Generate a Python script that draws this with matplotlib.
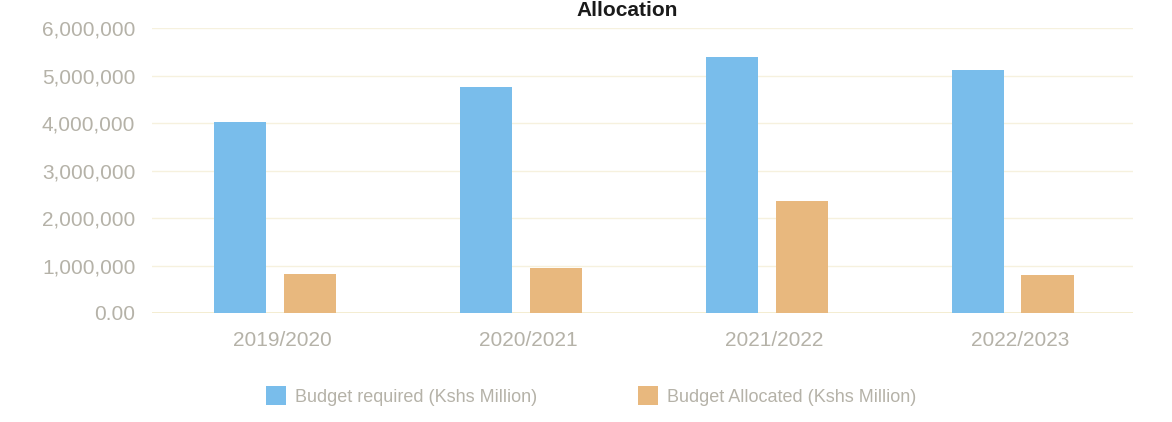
import matplotlib
matplotlib.use("Agg")
from matplotlib import pyplot as plt
from matplotlib.ticker import FuncFormatter
import numpy as np

years = ["2019/2020", "2020/2021", "2021/2022", "2022/2023"]
budget_required = [4030000, 4760000, 5390000, 5110000]
budget_allocated = [820000, 950000, 2360000, 800000]
yticks = [0, 1000000, 2000000, 3000000, 4000000, 5000000, 6000000]

plt.rcParams["font.family"] = ["Liberation Sans", "DejaVu Sans"]

blue = "#79BDEB"
orange = "#E8B87E"
label_color = "#B5B2A8"

fig = plt.figure(figsize=(11.72, 4.22), dpi=100)
ax = fig.add_axes([152 / 1172, 1 - 313 / 422, (1133 - 152) / 1172, (313 - 28) / 422])

index = np.arange(len(years))
bar_width = 0.212
offset = 0.142

ax.bar(index - offset, budget_required, bar_width, color=blue,
       label="Budget required (Kshs Million)", zorder=3)
ax.bar(index + offset, budget_allocated, bar_width, color=orange,
       label="Budget Allocated (Kshs Million)", zorder=3)

ax.set_xlim(-0.50, 3.49)
ax.set_ylim(0, 6000000)
ax.set_yticks(yticks)
ax.yaxis.set_major_formatter(
    FuncFormatter(lambda v, p: "0.00" if v == 0 else f"{int(v):,}"))
ax.set_xticks(index + 0.03)
ax.set_xticklabels(years)

ax.grid(axis="y", color="#F6F1DE", linewidth=1.0, zorder=0)
ax.axhline(0, color="#F3EBCB", linewidth=1.2, zorder=2)
for s in ax.spines.values():
    s.set_visible(False)
ax.tick_params(length=0)
ax.tick_params(axis="y", pad=12, labelsize=15, labelcolor=label_color)
ax.tick_params(axis="x", pad=13, labelsize=15, labelcolor=label_color)

fig.text(0.535, 0.997, "Allocation", ha="center", va="top",
         fontsize=15, fontweight="bold", color="#1a1a1a")

leg = fig.legend(loc="center", bbox_to_anchor=(591 / 1172, 1 - 396 / 422),
                 ncol=2, frameon=False, fontsize=13, handlelength=1.1,
                 handleheight=1.2, handletextpad=0.5, columnspacing=5.6)
for t in leg.get_texts():
    t.set_color(label_color)

plt.savefig("out.png", dpi=100)
